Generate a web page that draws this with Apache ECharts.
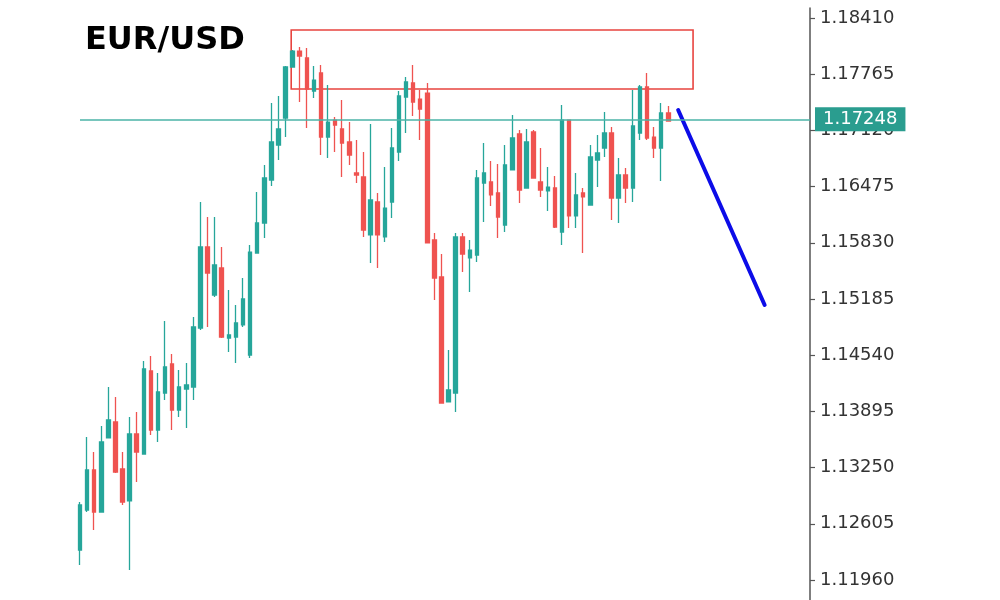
<!DOCTYPE html>
<html>
<head>
<meta charset="utf-8">
<script src="https://cdn.jsdelivr.net/npm/echarts@6/dist/echarts.min.js"></script>
<style>html,body{margin:0;padding:0;background:#fff}#chart{width:1000px;height:600px}</style>
</head>
<body>
<div id="chart"></div>
<script>
// ---- data ----
const title = 'EUR/USD';
const opens  = [1.12304,1.12763,1.13222,1.12740,1.13590,1.13773,1.13234,1.12867,1.13636,1.13406,
                1.14359,1.13681,1.14106,1.14439,1.13911,1.14152,1.14175,1.14852,1.15782,1.15231,
                1.15541,1.14737,1.14749,1.14887,1.14542,1.15713,1.16057,1.16551,1.16952,1.17262,
                1.17848,1.18031,1.17951,1.17572,1.17779,1.17044,1.17239,1.17136,1.16987,1.16631,
                1.16585,1.15920,1.16298,1.15897,1.16298,1.16872,1.17503,1.17664,1.17480,1.17549,
                1.15862,1.15438,1.14003,1.14106,1.15897,1.15656,1.15690,1.16516,1.16528,1.16402,
                1.16034,1.16666,1.17079,1.16459,1.17102,1.16528,1.16425,1.16459,1.15954,1.17239,
                1.16138,1.16402,1.16264,1.16780,1.16918,1.17090,1.16344,1.16608,1.16459,1.17090,
                1.17618,1.17044,1.16918,1.17320];
const closes = [1.12821,1.13222,1.12740,1.13544,1.13796,1.13199,1.12855,1.13636,1.13429,1.14382,
                1.13681,1.14118,1.14405,1.13911,1.14175,1.14198,1.14864,1.15782,1.15483,1.15575,
                1.14749,1.14772,1.14910,1.15185,1.15724,1.16057,1.16574,1.16987,1.17136,1.17848,
                1.18031,1.17974,1.17595,1.17698,1.17044,1.17216,1.17182,1.16975,1.16838,1.16608,
                1.15977,1.16321,1.15920,1.16229,1.16918,1.17515,1.17676,1.17446,1.17366,1.15828,
                1.15426,1.13991,1.14141,1.15897,1.15701,1.15747,1.16574,1.16631,1.16379,1.16126,
                1.16723,1.17033,1.16436,1.16987,1.16574,1.16436,1.16470,1.16011,1.17239,1.16138,
                1.16379,1.16356,1.16815,1.16861,1.17090,1.16344,1.16608,1.16459,1.17171,1.17618,
                1.17033,1.16918,1.17320,1.17228];
const lows   = [1.12132,1.12740,1.12534,1.12740,1.13590,1.13188,1.12821,1.12075,1.13085,1.13406,
                1.13624,1.13544,1.14026,1.13681,1.13831,1.13704,1.14026,1.14829,1.14864,1.15208,
                1.14737,1.14577,1.14450,1.14864,1.14508,1.15713,1.15885,1.16482,1.16780,1.17044,
                1.17848,1.17446,1.17148,1.17492,1.16838,1.16803,1.16872,1.16585,1.16723,1.16516,
                1.15897,1.15598,1.15541,1.15839,1.16115,1.16769,1.17090,1.17285,1.17010,1.15828,
                1.15174,1.13991,1.14003,1.13888,1.15495,1.15265,1.15610,1.16069,1.16252,1.15885,
                1.15954,1.16666,1.16287,1.16459,1.16574,1.16356,1.16195,1.16000,1.15805,1.16000,
                1.16000,1.15713,1.16264,1.16470,1.16815,1.16092,1.16057,1.16287,1.16298,1.17010,
                1.17010,1.16803,1.16539,1.17228];
const highs  = [1.12855,1.13601,1.13429,1.13727,1.14175,1.14060,1.13429,1.13831,1.13888,1.14473,
                1.14531,1.14336,1.14933,1.14554,1.14370,1.14450,1.14978,1.16298,1.16126,1.16126,
                1.15782,1.15288,1.15116,1.15426,1.15805,1.16413,1.16723,1.17434,1.17515,1.17859,
                1.18043,1.18077,1.18066,1.17859,1.17871,1.17641,1.17274,1.17469,1.17216,1.17010,
                1.16872,1.17193,1.16402,1.16700,1.17148,1.17572,1.17733,1.17871,1.17584,1.17664,
                1.15942,1.15701,1.14600,1.15942,1.15942,1.15862,1.16666,1.16975,1.16769,1.16734,
                1.16952,1.17297,1.17125,1.17136,1.17125,1.16918,1.16700,1.16597,1.17412,1.17239,
                1.16631,1.16459,1.16952,1.17067,1.17331,1.17159,1.16803,1.16689,1.17584,1.17641,
                1.17779,1.17159,1.17434,1.17400];
const slotCount = 104; // candles plus empty future slots
const categories = Array.from({length: slotCount}, (_, i) => 'P' + i);
const tickValues = [1.11960,1.12605,1.13250,1.13895,1.14540,1.15185,1.15830,1.16475,1.17120,1.17765,1.18410];
const currentPrice = 1.17248;
const resistanceZone = [[29.8, 1.18272], [86.5, 1.17595]]; // [slot, price] corners
const projection = [[84.4, 1.17354], [96.6, 1.15116]];     // [slot, price] points

const candles = opens.map((o, i) => [o, closes[i], lows[i], highs[i]]);

const chart = echarts.init(document.getElementById('chart'), null, {renderer: 'canvas'});
const axisFont = 'DejaVu Sans';
chart.setOption({
  animation: false,
  backgroundColor: '#ffffff',
  title: {
    text: title, left: 80, top: 20,
    textStyle: {fontFamily: 'DejaVu Sans', fontWeight: 'bold', fontSize: 32, color: '#000'}
  },
  grid: {left: 80, right: 190, top: 8, bottom: 0, containLabel: false},
  xAxis: [
    {type: 'category', data: categories, boundaryGap: false, show: false},
    {type: 'value', min: 0, max: slotCount - 1, show: false}
  ],
  yAxis: {
    type: 'value', position: 'right', min: 1.11730, max: 1.18525, scale: true,
    splitLine: {show: false},
    axisLine: {show: true, onZero: false, lineStyle: {color: '#555', width: 1.5}},
    axisTick: {show: true, length: 5, inside: false, customValues: tickValues, lineStyle: {color: '#555', width: 1.2}},
    axisLabel: {
      customValues: tickValues, margin: 10, color: '#333', fontFamily: axisFont, fontSize: 18,
      formatter: v => Number(v).toFixed(5)
    }
  },
  series: [
    {
      type: 'candlestick', xAxisIndex: 0, data: candles, barWidth: 4, clip: true,
      itemStyle: {color: '#26a69a', color0: '#ef5350', borderColor: '#26a69a', borderColor0: '#ef5350', borderWidth: 1.3}
    },
    {
      type: 'line', xAxisIndex: 1, data: projection, symbol: 'none', z: 4,
      lineStyle: {color: '#0c0ce8', width: 4, cap: 'round'},
      markLine: {
        silent: true, symbol: ['none', 'none'], animation: false, precision: 5,
        lineStyle: {color: '#4bb3a7', width: 1.5, type: 'solid'},
        label: {
          show: true, position: 'end', distance: 5, formatter: currentPrice.toFixed(5),
          color: '#fff', backgroundColor: '#2a9d8f', fontFamily: axisFont, fontSize: 18,
          padding: [2, 8], lineHeight: 20
        },
        data: [{yAxis: currentPrice}]
      },
      markArea: {
        silent: true,
        itemStyle: {color: 'rgba(0,0,0,0)', borderColor: '#e8443f', borderWidth: 1.6},
        data: [[{coord: resistanceZone[0]}, {coord: resistanceZone[1]}]]
      }
    }
  ]
});
</script>
</body>
</html>
